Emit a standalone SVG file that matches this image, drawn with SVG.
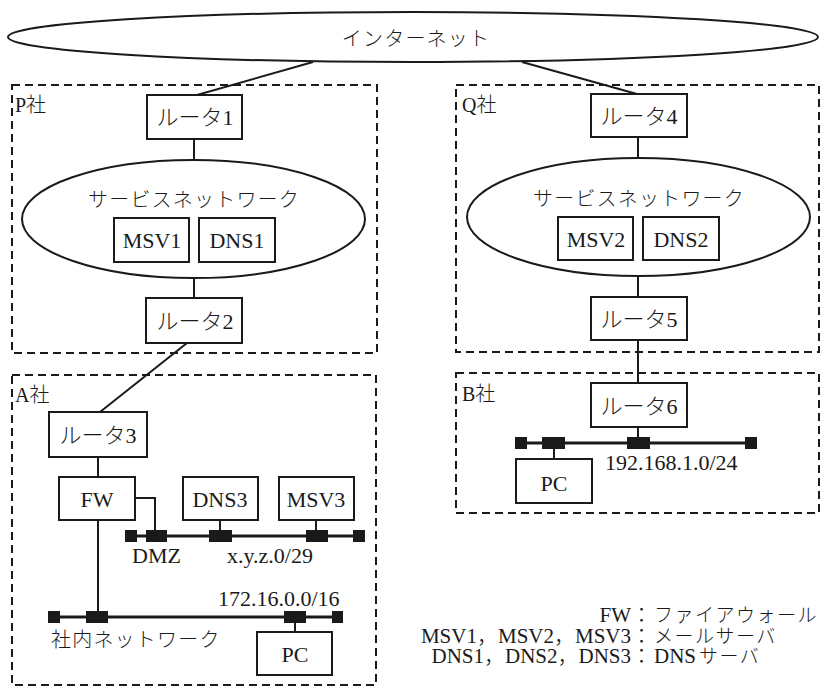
<svg xmlns="http://www.w3.org/2000/svg" width="823" height="690" viewBox="0 0 823 690">
<style>
.bg{fill:#fff}
.box{fill:#fff;stroke:#1a1a1a;stroke-width:2}
.ell{fill:#fff;stroke:#1a1a1a;stroke-width:2}
.zone{fill:none;stroke:#1a1a1a;stroke-width:2;stroke-dasharray:8 5}
.ln{fill:none;stroke:#1a1a1a;stroke-width:2}
.bus{fill:none;stroke:#1a1a1a;stroke-width:3}
.tap{fill:#1a1a1a}
.jp{font-family:"Noto Sans CJK JP",sans-serif;font-size:20px;letter-spacing:1.2px;fill:#1a1a1a;font-weight:300}
.mx{font-family:"Liberation Serif","Noto Sans CJK JP",serif;font-size:22px;fill:#1a1a1a;font-weight:300}
.mxs{font-family:"Liberation Serif","Noto Sans CJK JP",serif;font-size:20px;fill:#1a1a1a;font-weight:300}
.lg{font-family:"Liberation Serif","Noto Sans CJK JP",serif;font-size:21px;fill:#1a1a1a;font-weight:300}
.lgj{font-family:"Noto Sans CJK JP",sans-serif;font-size:19px;letter-spacing:1.5px;font-weight:300}
.c{text-anchor:middle}
.e{text-anchor:end}
</style>
<rect class="bg" x="0" y="0" width="823" height="690"/>

<g id="zones">
<rect id="zone-P" class="zone" x="12" y="85" width="365" height="268"/>
<rect id="zone-Q" class="zone" x="456" y="85" width="363" height="267"/>
<rect id="zone-A" class="zone" x="12" y="375" width="364" height="310"/>
<rect id="zone-B" class="zone" x="456" y="373" width="363" height="140"/>
<text class="mxs" x="15" y="112">P社</text>
<text class="mxs" x="462" y="112">Q社</text>
<text class="mxs" x="15" y="402">A社</text>
<text class="mxs" x="462" y="401">B社</text>
</g>

<g id="connectors">
<line class="ln" x1="313" y1="62" x2="197" y2="95"/>
<line class="ln" x1="522" y1="62" x2="637" y2="94"/>
<line class="ln" x1="194" y1="139" x2="194" y2="160"/>
<line class="ln" x1="194" y1="278" x2="194" y2="298"/>
<line class="ln" x1="638" y1="137" x2="638" y2="158"/>
<line class="ln" x1="638" y1="276" x2="638" y2="297"/>
<line class="ln" x1="638" y1="340" x2="638" y2="383"/>
<line class="ln" x1="187" y1="343" x2="100" y2="412"/>
<line class="ln" x1="98" y1="457" x2="98" y2="477"/>
<polyline class="ln" points="135,498 155,498 155,536"/>
<line class="ln" x1="98" y1="520" x2="98" y2="617"/>
<line class="ln" x1="220" y1="520" x2="220" y2="536"/>
<line class="ln" x1="316" y1="520" x2="316" y2="536"/>
<line class="ln" x1="295" y1="617" x2="295" y2="632"/>
<line class="ln" x1="638" y1="427" x2="638" y2="443"/>
<line class="ln" x1="554" y1="443" x2="554" y2="459"/>
</g>

<g id="internet">
<ellipse class="ell" cx="413" cy="37" rx="405" ry="25"/>
<text class="jp c" x="416" y="46">インターネット</text>
</g>

<g id="router1"><rect class="box" x="147" y="95" width="95" height="44"/><text class="mx c" x="195" y="125">ルータ1</text></g>
<g id="service-P">
<ellipse class="ell" cx="193.5" cy="219" rx="171.5" ry="59"/>
<text class="jp c" x="194" y="207">サービスネットワーク</text>
</g>
<g id="MSV1"><rect class="box" x="114" y="218" width="75" height="44"/><text class="mx c" x="152" y="248">MSV1</text></g>
<g id="DNS1"><rect class="box" x="199" y="218" width="76" height="44"/><text class="mx c" x="237" y="248">DNS1</text></g>
<g id="router2"><rect class="box" x="146" y="298" width="96" height="45"/><text class="mx c" x="195" y="329">ルータ2</text></g>

<g id="router4"><rect class="box" x="591" y="94" width="96" height="43"/><text class="mx c" x="639" y="124">ルータ4</text></g>
<g id="service-Q">
<ellipse class="ell" cx="638.5" cy="217" rx="171.5" ry="59"/>
<text class="jp c" x="639" y="206">サービスネットワーク</text>
</g>
<g id="MSV2"><rect class="box" x="558" y="217" width="75" height="43"/><text class="mx c" x="596" y="247">MSV2</text></g>
<g id="DNS2"><rect class="box" x="643" y="217" width="76" height="43"/><text class="mx c" x="681" y="247">DNS2</text></g>
<g id="router5"><rect class="box" x="591" y="297" width="96" height="43"/><text class="mx c" x="639" y="327">ルータ5</text></g>

<g id="router3"><rect class="box" x="49" y="412" width="98" height="45"/><text class="mx c" x="98" y="443">ルータ3</text></g>
<g id="FW"><rect class="box" x="59" y="477" width="76" height="43"/><text class="mx c" x="97" y="507">FW</text></g>
<g id="DNS3"><rect class="box" x="183" y="477" width="75" height="43"/><text class="mx c" x="220" y="507">DNS3</text></g>
<g id="MSV3"><rect class="box" x="279" y="477" width="75" height="43"/><text class="mx c" x="316" y="507">MSV3</text></g>

<g id="dmz-bus">
<line class="bus" x1="128" y1="536" x2="362" y2="536"/>
<rect class="tap" x="125" y="530" width="12" height="12"/>
<rect class="tap" x="146" y="530" width="21" height="12"/>
<rect class="tap" x="209" y="530" width="23" height="12"/>
<rect class="tap" x="306" y="530" width="22" height="12"/>
<rect class="tap" x="353" y="530" width="12" height="12"/>
<text class="mx" x="132" y="563">DMZ</text>
<text class="mx" x="227" y="563">x.y.z.0/29</text>
</g>

<g id="lan-A">
<line class="bus" x1="50" y1="617" x2="341" y2="617"/>
<rect class="tap" x="48" y="611" width="12" height="12"/>
<rect class="tap" x="86" y="611" width="22" height="12"/>
<rect class="tap" x="284" y="611" width="22" height="12"/>
<rect class="tap" x="332" y="611" width="11" height="12"/>
<text class="mx" x="218" y="606">172.16.0.0/16</text>
<text class="jp" x="51" y="647">社内ネットワーク</text>
</g>
<g id="PC-A"><rect class="box" x="257" y="632" width="75" height="43"/><text class="mx c" x="295" y="662">PC</text></g>

<g id="router6"><rect class="box" x="591" y="383" width="96" height="44"/><text class="mx c" x="639" y="414">ルータ6</text></g>
<g id="lan-B">
<line class="bus" x1="517" y1="443" x2="755" y2="443"/>
<rect class="tap" x="515" y="437" width="12" height="12"/>
<rect class="tap" x="542" y="437" width="23" height="12"/>
<rect class="tap" x="627" y="437" width="23" height="12"/>
<rect class="tap" x="745" y="437" width="12" height="12"/>
<text class="mx" x="605" y="470">192.168.1.0/24</text>
</g>
<g id="PC-B"><rect class="box" x="516" y="459" width="76" height="44"/><text class="mx c" x="554" y="491">PC</text></g>

<g id="legend">
<text class="lg" y="622"><tspan x="652" text-anchor="end">FW：</tspan><tspan class="lgj" x="654">ファイアウォール</tspan></text>
<text class="lg" y="643"><tspan x="652" text-anchor="end">MSV1，MSV2，MSV3：</tspan><tspan class="lgj" x="654">メールサーバ</tspan></text>
<text class="lg" y="663"><tspan x="652" text-anchor="end">DNS1，DNS2，DNS3：</tspan><tspan x="654">DNS</tspan><tspan class="lgj" dx="3">サーバ</tspan></text>
</g>
</svg>
